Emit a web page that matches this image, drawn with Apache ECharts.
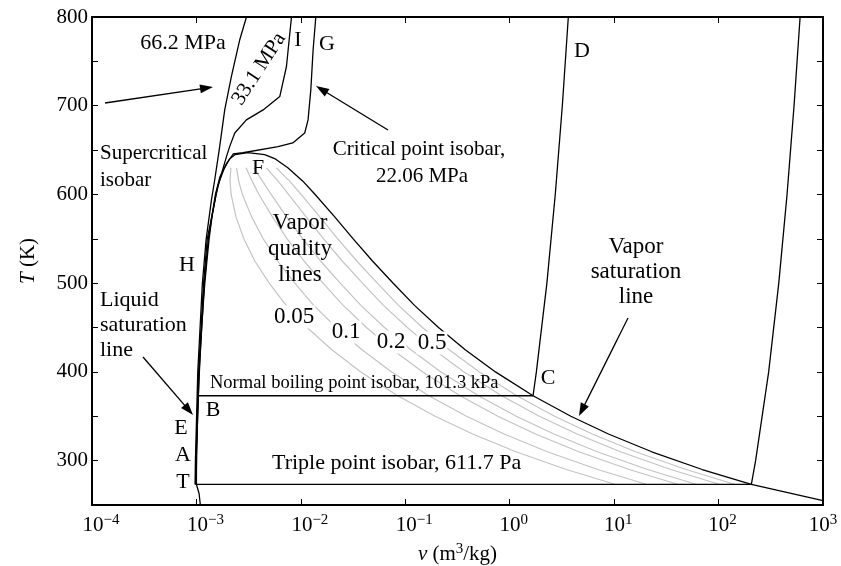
<!DOCTYPE html>
<html>
<head>
<meta charset="utf-8">
<script src="https://cdn.jsdelivr.net/npm/echarts@6/dist/echarts.min.js"></script>
<style>
  html, body { margin: 0; padding: 0; background: #fff; }
  #tv_chart { width: 841px; height: 566px; }
</style>
</head>
<body>
<div id="tv_chart"></div>
<script>
// T-v diagram of water, log v axis

var FONT = '"Liberation Serif", "DejaVu Serif", serif';

// saturation dome (liquid / vapor), T in K, v in m3/kg
var satT  = [273.16, 290, 310, 330, 350, 373.15, 400, 425, 450, 475, 500, 525, 550, 575, 600, 615, 630, 640, 645, 647.1];
var satVf = [0.0010002, 0.001001, 0.001007, 0.001016, 0.001027, 0.001044, 0.001067, 0.001093, 0.001123, 0.00116,
             0.001203, 0.00126, 0.001323, 0.00141, 0.001541, 0.001658, 0.001856, 0.002075, 0.002351, 0.0031];
var satVg = [206.0, 69.7, 22.93, 8.82, 3.846, 1.673, 0.7303, 0.375, 0.208, 0.1225,
             0.0766, 0.0485, 0.0317, 0.0210, 0.0137, 0.01045, 0.0075, 0.0057, 0.0045, 0.0031];

// sublimation continuation past the triple point
var subV = [206.0, 1000];
var subT = [273.16, 255];

// ice branch below the triple point
var iceV = [0.0010002, 0.00106, 0.00109];
var iceT = [273.16, 263, 250];

// vapor quality lines
var qualT = [273.16, 290, 310, 330, 350, 373.15, 400, 425, 450, 475, 500, 525, 550, 575, 600, 615, 630];
var q005 = [10.30, 3.486, 1.1475, 0.4420, 0.19328, 0.08458, 0.03753, 0.01979, 0.01147, 0.007227, 0.004973, 0.003622, 0.002842, 0.00239, 0.002149, 0.002098, 0.002138];
var q010 = [20.60, 6.971, 2.2939, 0.8829, 0.38553, 0.16812, 0.07399, 0.03848, 0.02181, 0.01329, 0.008743, 0.005984, 0.004361, 0.003369, 0.002757, 0.002537, 0.002420];
var q020 = [41.20, 13.941, 4.5868, 1.7648, 0.77003, 0.33520, 0.14691, 0.07587, 0.04250, 0.02543, 0.016282, 0.010708, 0.007398, 0.005328, 0.003973, 0.003416, 0.002985];
var q030 = [61.80, 20.911, 6.8797, 2.6467, 1.15453, 0.50227, 0.21984, 0.11326, 0.06319, 0.03756, 0.023822, 0.015432, 0.010436, 0.007287, 0.005189, 0.004296, 0.003549];
var q050 = [103.0, 34.851, 11.4655, 4.4105, 1.92353, 0.83642, 0.36568, 0.18805, 0.10456, 0.06183, 0.038902, 0.02488, 0.016512, 0.011205, 0.007621, 0.006054, 0.004678];
var q070 = [144.2, 48.790, 16.0513, 6.1743, 2.69253, 1.17058, 0.51153, 0.26283, 0.14594, 0.08610, 0.053981, 0.034328, 0.022587, 0.015123, 0.010052, 0.007812, 0.005807];

// isobars
var tripleV = [0.0010002, 206.0, 226.3, 301.8, 377.2, 452.7, 528.1, 603.6];   // 611.7 Pa
var tripleT = [273.16, 273.16, 300, 400, 500, 600, 700, 800];
var boilV = [0.001044, 1.673, 1.80, 2.27, 2.73, 3.19, 3.64];                  // 101.3 kPa
var boilT = [373.15, 373.15, 400, 500, 600, 700, 800];
var critV = [0.00099, 0.000995, 0.00106, 0.00119, 0.0013, 0.00152, 0.00168, 0.00195, 0.002245, 0.00279, 0.00605, 0.00836, 0.01089, 0.01172, 0.01245, 0.0131, 0.0139]; // 22.06 MPa
var critT = [273.16, 300, 400, 500, 550, 600, 620, 635, 645.6, 647, 653.9, 658, 669.3, 684, 717.6, 762.8, 800];
var p331V = [0.000985, 0.00099, 0.00105, 0.00117, 0.00127, 0.0016, 0.00194, 0.00208, 0.00233, 0.00301, 0.00435, 0.00628, 0.00728, 0.00813]; // 33.1 MPa
var p331T = [273.16, 300, 400, 500, 550, 608.7, 642.6, 653.9, 669.3, 684, 695.3, 710.3, 744.2, 800];
var p662V = [0.00097, 0.000978, 0.00103, 0.00114, 0.00124, 0.001392, 0.001496, 0.00167, 0.001866, 0.00216, 0.0026, 0.003013]; // 66.2 MPa
var p662T = [273.16, 300, 400, 500, 550, 593.7, 616.3, 653.9, 695.3, 732.9, 774.4, 800];

function pairs(vs, ts) {
    var out = [];
    for (var i = 0; i < vs.length; i++) out.push([vs[i], ts[i]]);
    return out;
}

// dome: liquid up, vapor down, then sublimation
var domeData = pairs(satVf, satT);
for (var i = satT.length - 2; i >= 0; i--) domeData.push([satVg[i], satT[i]]);
domeData.push([subV[1], subT[1]]);

function blackLine(name, data) {
    return {
        name: name, type: 'line', data: data, showSymbol: false, symbol: 'none',
        lineStyle: { color: '#000', width: 1.3 }, z: 3, silent: true
    };
}
function greyLine(name, vs) {
    return {
        name: name, type: 'line', data: pairs(vs, qualT), showSymbol: false, symbol: 'none',
        lineStyle: { color: '#c4c4c4', width: 1.2 }, z: 2, silent: true
    };
}

function txt(x, y, s, size, align, extra) {
    var el = {
        type: 'text', x: x, y: y, z: 100,
        style: {
            text: s, font: (size || 22) + 'px ' + FONT, fill: '#000',
            textAlign: align || 'center', textVerticalAlign: 'middle'
        }
    };
    if (extra) for (var k in extra) el[k] = extra[k];
    return el;
}
function qlabel(x, y, s) {
    return {
        type: 'text', x: x, y: y, z: 100,
        style: {
            text: s, font: '23px ' + FONT, fill: '#000', textAlign: 'center', textVerticalAlign: 'middle',
            backgroundColor: '#fff', padding: [0, 1]
        }
    };
}
function arrow(x1, y1, x2, y2) {
    var a = Math.atan2(y2 - y1, x2 - x1), c = Math.cos(a), s = Math.sin(a);
    var L = 13, W = 4.5;
    return [
        { type: 'line', z: 100, shape: { x1: x1, y1: y1, x2: x2 - c * L * 0.7, y2: y2 - s * L * 0.7 },
          style: { stroke: '#000', lineWidth: 1.3 } },
        { type: 'polygon', z: 100, shape: { points: [[x2, y2],
            [x2 - L * c + W * s, y2 - L * s - W * c], [x2 - L * c - W * s, y2 - L * s + W * c]] },
          style: { fill: '#000' } }
    ];
}

var myChart = echarts.init(document.getElementById('tv_chart'), null, { renderer: 'canvas' });

var xAxisBase = {
    type: 'log', logBase: 10, min: 1e-4, max: 1e3, splitNumber: 7,
    axisLine: { onZero: false, lineStyle: { color: '#000', width: 2 } },
    axisTick: { inside: true, length: 6, lineStyle: { color: '#000', width: 1 } },
    splitLine: { show: false }
};
var yAxisBase = {
    type: 'value', min: 250, max: 800, interval: 50,
    axisLine: { onZero: false, lineStyle: { color: '#000', width: 2 } },
    axisTick: { inside: true, length: 6, lineStyle: { color: '#000', width: 1 } },
    splitLine: { show: false }
};

var option = {
    animation: false,
    backgroundColor: '#fff',
    grid: { left: 92, right: 18, top: 17, bottom: 61, containLabel: false, outerBoundsMode: 'none' },
    xAxis: [
        Object.assign({}, xAxisBase, {
            position: 'bottom',
            axisLabel: {
                margin: 8,
                formatter: function (v) {
                    var e = Math.round(Math.log10(v));
                    // keep the base "10" on the tick, last label kept inside the frame
                    var pad = e < 0 ? '{pn| }' : (e < 3 ? '{pp| }' : '');
                    return pad + '{b|10}{s|' + (e < 0 ? '\u2212' + (-e) : e) + '}';
                },
                rich: {
                    pn: { width: 18 },
                    pp: { width: 8 },
                    b: { fontFamily: FONT, fontSize: 21, color: '#000' },
                    s: { fontFamily: FONT, fontSize: 15, color: '#000', padding: [0, 0, 10, 0] }
                }
            },
            name: '{i|v} (m{s|3}/kg)',
            nameLocation: 'middle',
            nameGap: 37,
            nameTextStyle: {
                fontFamily: FONT, fontSize: 21, color: '#000',
                rich: {
                    i: { fontFamily: FONT, fontSize: 21, fontStyle: 'italic', color: '#000' },
                    s: { fontFamily: FONT, fontSize: 15, color: '#000', padding: [0, 0, 10, 0] }
                }
            }
        }),
        Object.assign({}, xAxisBase, { position: 'top', axisLabel: { show: false } })
    ],
    yAxis: [
        Object.assign({}, yAxisBase, {
            position: 'left',
            axisLabel: {
                margin: 4, fontFamily: FONT, fontSize: 21, color: '#000',
                formatter: function (v) { return v % 100 === 0 ? String(v) : ''; }
            },
            name: '{i|T} (K)',
            nameLocation: 'middle',
            nameGap: 53,
            nameTextStyle: {
                fontFamily: FONT, fontSize: 21, color: '#000',
                rich: { i: { fontFamily: FONT, fontSize: 21, fontStyle: 'italic', color: '#000' } }
            }
        }),
        Object.assign({}, yAxisBase, { position: 'right', axisLabel: { show: false } })
    ],
    series: [
        greyLine('x=0.05', q005),
        greyLine('x=0.1', q010),
        greyLine('x=0.2', q020),
        greyLine('x=0.3', q030),
        greyLine('x=0.5', q050),
        greyLine('x=0.7', q070),
        blackLine('saturation', domeData),
        blackLine('ice', pairs(iceV, iceT)),
        blackLine('611.7 Pa', pairs(tripleV, tripleT)),
        blackLine('101.3 kPa', pairs(boilV, boilT)),
        blackLine('22.06 MPa', pairs(critV, critT)),
        blackLine('33.1 MPa', pairs(p331V, p331T)),
        blackLine('66.2 MPa', pairs(p662V, p662T))
    ],
    graphic: [].concat(
        [
            txt(183, 43, '66.2 MPa', 22),
            txt(298, 40, 'I', 22),
            txt(327, 44, 'G', 22),
            txt(582, 51, 'D', 22),
            txt(259, 69, '33.1 MPa', 21, 'center', { rotation: 57 * Math.PI / 180 }),
            txt(100, 153, 'Supercritical', 21, 'left'),
            txt(100, 180, 'isobar', 21, 'left'),
            txt(419, 149, 'Critical point isobar,', 21),
            txt(422, 176, '22.06 MPa', 21),
            txt(258, 168, 'F', 22),
            txt(300, 223, 'Vapor', 23),
            txt(300, 249, 'quality', 23),
            txt(300, 275, 'lines', 23),
            txt(187, 265, 'H', 22),
            txt(100, 300, 'Liquid', 22, 'left'),
            txt(100, 325, 'saturation', 22, 'left'),
            txt(100, 350, 'line', 22, 'left'),
            txt(210, 383, 'Normal boiling point isobar, 101.3 kPa', 18.5, 'left'),
            txt(213, 410, 'B', 22),
            txt(181, 428, 'E', 22),
            txt(183, 455, 'A', 22),
            txt(183, 482, 'T', 22),
            txt(548, 378, 'C', 22),
            txt(636, 247, 'Vapor', 23),
            txt(636, 272, 'saturation', 23),
            txt(636, 297, 'line', 23),
            txt(272, 463, 'Triple point isobar, 611.7 Pa', 22, 'left'),
            qlabel(294, 317, '0.05'),
            qlabel(346, 332, '0.1'),
            qlabel(391, 342, '0.2'),
            qlabel(432, 343, '0.5')
        ],
        arrow(105, 103, 213, 87),
        arrow(388, 130, 316, 86),
        arrow(143, 357, 193, 415),
        arrow(628, 318, 579, 416)
    )
};

myChart.setOption(option);
</script>
</body>
</html>
